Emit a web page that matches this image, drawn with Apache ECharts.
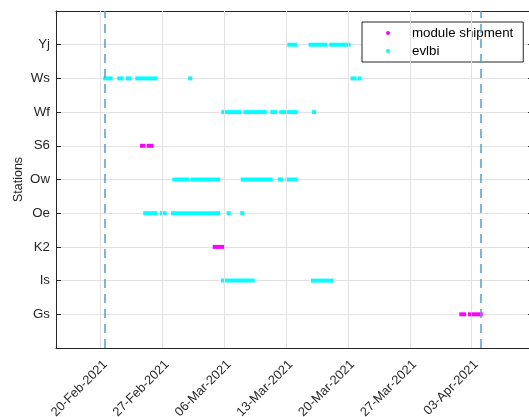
<!DOCTYPE html>
<html><head><meta charset="utf-8">
<script src="https://cdn.jsdelivr.net/npm/echarts@6/dist/echarts.min.js"></script>
<style>html,body{margin:0;padding:0;background:#fff}#c{width:529px;height:417px}</style>
</head><body><div id="c"></div>
<script>
// Days are counted from 20-Feb-2021 00:00
const stations = ['Gs', 'Is', 'K2', 'Oe', 'Ow', 'S6', 'Wf', 'Ws', 'Yj'];
const tickDays = [0, 7, 14, 21, 28, 35, 42];
const tickLabels = ['20-Feb-2021', '27-Feb-2021', '06-Mar-2021', '13-Mar-2021', '20-Mar-2021', '27-Mar-2021', '03-Apr-2021'];
const xRange = [-5.06, 48.94];
const windowDays = [0.5, 43.02];

// [station, startDay, endDay]
const moduleShipment = [
  ['S6', 4.45, 5.05], ['S6', 5.21, 5.96],
  ['K2', 12.68, 14.07],
  ['Gs', 40.6, 41.36], ['Gs', 41.58, 43.25]
];
const evlbi = [
  ['Yj', 21.13, 22.26], ['Yj', 23.53, 25.65], ['Yj', 25.88, 28.30],
  ['Ws', 0.29, 1.34], ['Ws', 1.87, 2.56], ['Ws', 2.86, 3.49], ['Ws', 3.92, 6.43], ['Ws', 9.95, 10.3],
  ['Ws', 28.30, 28.98], ['Ws', 29.16, 29.44],
  ['Wf', 13.65, 15.88], ['Wf', 16.14, 18.79], ['Wf', 19.2, 19.99], ['Wf', 20.22, 22.30], ['Wf', 24.1, 24.2],
  ['Ow', 8.11, 10.0], ['Ow', 10.15, 13.51], ['Ow', 15.85, 19.47], ['Ow', 20.04, 20.67], ['Ow', 20.9, 22.3],
  ['Oe', 4.82, 6.41], ['Oe', 6.71, 7.47], ['Oe', 7.96, 13.51], ['Oe', 14.3, 14.68], ['Oe', 15.84, 16.22],
  ['Is', 13.62, 17.43], ['Is', 23.81, 26.3]
];

const toData = arr => arr.map(d => [d[1], d[2], stations.indexOf(d[0]) + 1]);

function renderBar(params, api) {
  const y = api.value(2);
  const a = api.coord([api.value(0), y]);
  const b = api.coord([api.value(1), y]);
  const h = 4;
  const w = Math.max(b[0] - a[0], 4);
  const cx = (a[0] + b[0]) / 2;
  return { type: 'rect', shape: { x: cx - w / 2, y: a[1] - h / 2, width: w, height: h },
           style: { fill: api.visual('color') } };
}

const FONT = 'Liberation Sans';
const AX = '#262626';
const GRID = '#e2e2e2';
const yVals = stations.map((s, i) => i + 1);
const axLine = { show: true, onZero: false, lineStyle: { color: AX, width: 1 } };

const chart = echarts.init(document.getElementById('c'), null, { renderer: 'canvas' });
chart.setOption({
  animation: false,
  backgroundColor: '#fff',
  grid: { left: 56, top: 11, right: -4, bottom: 69, containLabel: false, outerBoundsMode: 'none' },
  legend: {
    data: ['module shipment', 'evlbi'],
    orient: 'vertical', left: 362, top: 22,
    icon: 'circle', itemWidth: 4, itemHeight: 4, itemGap: 4,
    padding: [4, 10, 4, 24],
    borderColor: AX, borderWidth: 1, backgroundColor: '#fff',
    selectedMode: false,
    textStyle: { fontFamily: FONT, fontSize: 13.3, color: '#000', lineHeight: 14, padding: [0, 0, 0, 17] }
  },
  xAxis: [{
    type: 'value', position: 'bottom', min: xRange[0], max: xRange[1],
    axisLine: axLine,
    axisTick: { show: true, inside: true, length: 5, customValues: tickDays, lineStyle: { color: AX } },
    axisLabel: { show: true, rotate: 45, margin: 10, customValues: tickDays,
      align: 'right', verticalAlign: 'top',
      fontFamily: FONT, fontSize: 12.8, color: AX,
      formatter: v => tickLabels[tickDays.indexOf(v)] || '' },
    splitLine: { show: false }
  }, {
    type: 'value', position: 'top', min: xRange[0], max: xRange[1],
    axisLine: axLine,
    axisTick: { show: true, inside: true, length: 5, customValues: tickDays, lineStyle: { color: AX } },
    axisLabel: { show: false }, splitLine: { show: false }
  }],
  yAxis: [{
    type: 'value', position: 'left', min: 0, max: 10, interval: 1,
    name: 'Stations', nameLocation: 'middle', nameGap: 31, nameRotate: 90, nameMoveOverlap: false,
    nameTextStyle: { fontFamily: FONT, fontSize: 12.5, color: AX },
    axisLine: axLine,
    axisTick: { show: true, inside: true, length: 5, customValues: yVals, lineStyle: { color: AX } },
    axisLabel: { show: true, margin: 6, customValues: yVals, fontFamily: FONT, fontSize: 13.3, color: AX,
      formatter: v => stations[v - 1] || '' },
    splitLine: { show: true, lineStyle: { color: GRID, width: 1 } }
  }, {
    type: 'value', position: 'right', min: 0, max: 10, interval: 1,
    axisLine: axLine,
    axisTick: { show: true, inside: true, length: 5, customValues: yVals, lineStyle: { color: AX } },
    axisLabel: { show: false }, splitLine: { show: false }
  }],
  series: [{
    name: 'xgrid', type: 'line', data: [], z: 1, silent: true,
    markLine: { silent: true, symbol: ['none', 'none'], animation: false,
      label: { show: false },
      lineStyle: { color: GRID, width: 1, type: 'solid' },
      data: tickDays.map(d => ({ xAxis: d })) }
  }, {
    name: 'module shipment', type: 'custom', renderItem: renderBar, z: 3,
    itemStyle: { color: '#ff00ff' },
    encode: { x: [0, 1], y: 2 },
    data: toData(moduleShipment)
  }, {
    name: 'evlbi', type: 'custom', renderItem: renderBar, z: 3,
    itemStyle: { color: '#00ffff' },
    encode: { x: [0, 1], y: 2 },
    data: toData(evlbi)
  }, {
    name: 'window', type: 'line', data: [], z: 4, silent: true,
    markLine: { silent: true, symbol: ['none', 'none'], animation: false,
      label: { show: false },
      lineStyle: { color: '#4f9fd6', width: 1.5, type: [9, 6] },
      data: windowDays.map(d => ({ xAxis: d })) }
  }]
});
</script>
</body></html>
